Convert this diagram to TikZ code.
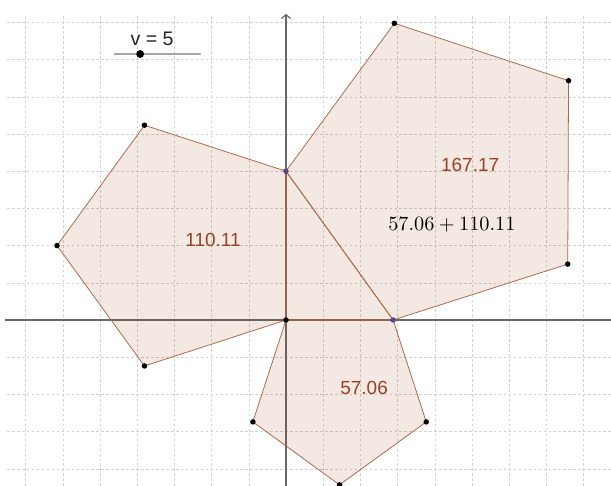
\documentclass[tikz,border=0pt]{standalone}
\usepackage{fontspec}
\setsansfont{Liberation Sans}
\usepackage{tikz}
\usetikzlibrary{calc, arrows.meta}

\definecolor{polybrown}{RGB}{153,51,0}
\definecolor{polyedge}{RGB}{170,105,75}
\definecolor{labelbrown}{RGB}{150,66,36}
\definecolor{axisgray}{RGB}{105,105,105}
\definecolor{gridgray}{RGB}{210,210,210}
\definecolor{slidergray}{RGB}{165,165,165}
\definecolor{freepoint}{RGB}{88,66,140}

\begin{document}
\begin{tikzpicture}[
    every node/.style={font=\sffamily},
    gridline/.style={gridgray, dash pattern=on 2pt off 1.8pt, line width=0.4pt},
    axis/.style={axisgray, line width=0.9pt},
    poly/.style={draw=polyedge, fill=polybrown, fill opacity=0.115, line width=0.6pt, line join=round},
    vertex/.style={circle, fill=black, inner sep=0pt, minimum size=4.2pt},
    freevertex/.style={vertex, fill=freepoint},
    area/.style={text=labelbrown, font=\sffamily\fontsize{14.5}{16}\selectfont},
    slider/.style={slidergray, line width=2pt, line cap=round},
    knob/.style={circle, fill=black, inner sep=0pt, minimum size=6pt}
  ]
  \useasboundingbox (-7.688,-4.462) rectangle (8.737,8.602);

  % grid
  \foreach \gx in {-7,...,8}
    \draw[gridline] (\gx,-4.462) -- (\gx,8.2);
  \foreach \gy in {-4,...,8}
    \draw[gridline] (-7.5,\gy) -- (8.737,\gy);

  % axes
  \coordinate (xstart) at (-7.55,0);
  \coordinate (xend) at (8.737,0);
  \coordinate (ystart) at (0,-4.462);
  \coordinate (yend) at (0,8.23);
  \draw[axis] (xstart) -- (xend);
  \draw[axis, -{Straight Barb[length=3pt, width=7pt]}] (ystart) -- (yend);

  % right triangle
  \coordinate (O) at (0,0);
  \coordinate (A) at (0,4);
  \coordinate (B) at (2.88,0);

  % pentagon on OA
  \coordinate (L1) at ($(A)!1!-108:(O)$);
  \coordinate (L2) at ($(L1)!1!-108:(A)$);
  \coordinate (L3) at ($(L2)!1!-108:(L1)$);
  % pentagon on BO
  \coordinate (D1) at ($(O)!1!-108:(B)$);
  \coordinate (D2) at ($(D1)!1!-108:(O)$);
  \coordinate (D3) at ($(D2)!1!-108:(D1)$);
  % pentagon on AB
  \coordinate (C1) at ($(B)!1!-108:(A)$);
  \coordinate (C2) at ($(C1)!1!-108:(B)$);
  \coordinate (C3) at ($(C2)!1!-108:(C1)$);

  \draw[poly] (O) -- (B) -- (A) -- cycle;
  \draw[poly] (O) -- (A) -- (L1) -- (L2) -- (L3) -- cycle;
  \draw[poly] (B) -- (O) -- (D1) -- (D2) -- (D3) -- cycle;
  \draw[poly] (A) -- (B) -- (C1) -- (C2) -- (C3) -- cycle;

  % points
  \foreach \p in {O,L1,L2,L3,D1,D2,D3,C1,C2,C3}
    \node[vertex] (dot\p) at (\p) {};
  \node[freevertex] (dotA) at (A) {};
  \node[freevertex] (dotB) at (B) {};

  % areas
  \node[area] (arealeft) at (-1.96,2.15) {110.11};
  \node[area] (areabottom) at (2.10,-1.83) {57.06};
  \node[area] (areabig) at (4.95,4.17) {167.17};
  \node[scale=1.55] (areasum) at (4.46,2.57) {$57.06 + 110.11$};

  % slider
  \coordinate (sliderL) at (-4.60,7.15);
  \coordinate (sliderR) at (-2.31,7.15);
  \draw[slider] (sliderL) -- (sliderR);
  \node[knob] (vknob) at (-3.92,7.15) {};
  \node[font=\sffamily\fontsize{15}{17}\selectfont, text=black!85] (vlabel) at (-3.60,7.56) {v = 5};

\end{tikzpicture}
\end{document}
